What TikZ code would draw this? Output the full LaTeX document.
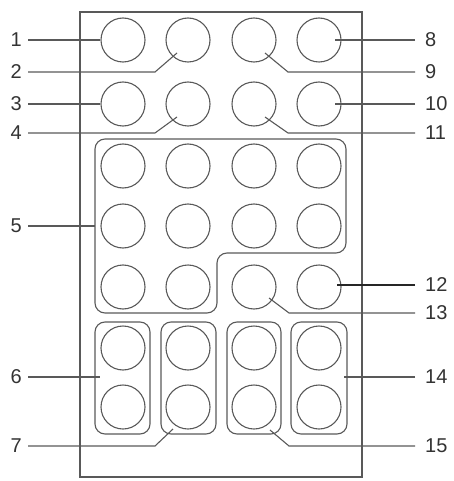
\documentclass[tikz,border=0pt]{standalone}
\usepackage{fontspec}
\setmainfont{Liberation Sans}
\begin{document}
\begin{tikzpicture}[x=1pt,y=-1pt,
  ln/.style={draw=black!65,line width=1.1pt},
  key/.style={circle,draw=black!65,line width=1.1pt,minimum size=44pt,inner sep=0pt},
  grp/.style={draw=black!65,line width=1.1pt,rounded corners=10pt},
  lt/.style={font=\fontsize{20}{22}\selectfont,text=black!80,inner sep=0pt},
  ll/.style={lt,anchor=east,inner xsep=6pt},
  rl/.style={lt,anchor=west,inner xsep=10pt}]
\useasboundingbox (0,0) rectangle (454,481);
% outer body
\draw[ln] (80,12) rectangle (362,477);
% keys
\foreach \r/\yy in {1/40,2/104,3/166,4/226,5/287,6/348,7/407}{
  \foreach \c/\xx in {1/123,2/188,3/254,4/319}{
    \node[key] (c\r\c) at (\xx,\yy) {};
  }
}
% group outlines
\draw[grp] (95,139) -- (346,139) -- (346,253) -- (217,253) -- (217,313) -- (95,313) -- cycle;
\draw[grp] (95,322) rectangle (150,434);
\draw[grp] (161,322) rectangle (216,434);
\draw[grp] (227,322) rectangle (281,434);
\draw[grp] (291,322) rectangle (347,434);
% left labels
\node[ll] (l1) at (28,40) {1};
\node[ll] (l2) at (28,72) {2};
\node[ll] (l3) at (28,104) {3};
\node[ll] (l4) at (28,133) {4};
\node[ll] (l5) at (28,226) {5};
\node[ll] (l6) at (28,377) {6};
\node[ll] (l7) at (28,446) {7};
% right labels
\node[rl] (r8) at (415,40) {8};
\node[rl] (r9) at (415,72) {9};
\node[rl] (r10) at (415,104) {10};
\node[rl] (r11) at (415,133) {11};
\node[rl] (r12) at (415,285) {12};
\node[rl] (r13) at (415,313) {13};
\node[rl] (r14) at (415,377) {14};
\node[rl] (r15) at (415,446) {15};
% connector points
\coordinate (b2) at (155,72);   \coordinate (e2) at (177,53);
\coordinate (b4) at (155,133);  \coordinate (e4) at (177,117);
\coordinate (e5) at (95,226);
\coordinate (e6) at (100,377);
\coordinate (b7) at (155,446);  \coordinate (e7) at (173,429);
\coordinate (e8) at (335,40);
\coordinate (b9) at (288,72);   \coordinate (e9) at (265,53);
\coordinate (e10) at (335,104);
\coordinate (b11) at (288,133); \coordinate (e11) at (265,117);
\coordinate (e12) at (337,285);
\coordinate (b13) at (289,313); \coordinate (e13) at (269,298);
\coordinate (e14) at (344,377);
\coordinate (b15) at (289,446); \coordinate (e15) at (270,430);
% connectors
\draw[ln] (l1.east) -- (c11.west);
\draw[ln] (l2.east) -- (b2) -- (e2);
\draw[ln] (l3.east) -- (c21.west);
\draw[ln] (l4.east) -- (b4) -- (e4);
\draw[ln] (l5.east) -- (e5);
\draw[ln] (l6.east) -- (e6);
\draw[ln] (l7.east) -- (b7) -- (e7);
\draw[ln] (r8.west) -- (e8);
\draw[ln] (r9.west) -- (b9) -- (e9);
\draw[ln] (r10.west) -- (e10);
\draw[ln] (r11.west) -- (b11) -- (e11);
\draw[ln,draw=black!85,line width=1.4pt] (r12.west) -- (e12);
\draw[ln] (r13.west) -- (b13) -- (e13);
\draw[ln] (r14.west) -- (e14);
\draw[ln] (r15.west) -- (b15) -- (e15);
\end{tikzpicture}
\end{document}
